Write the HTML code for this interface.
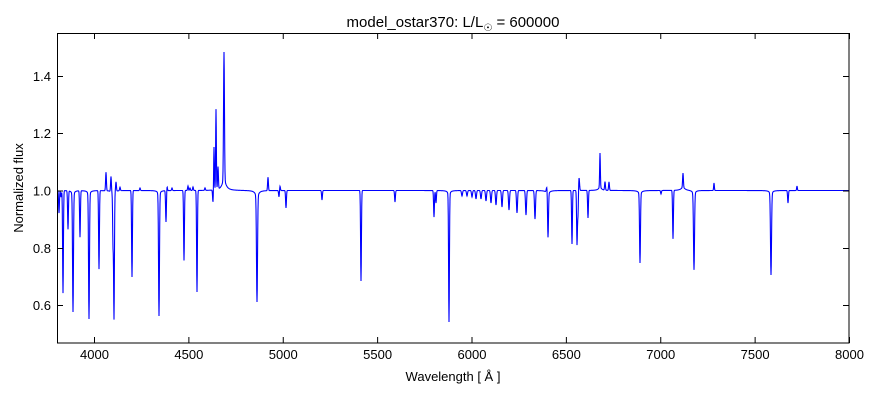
<!DOCTYPE html>
<html><head><meta charset="utf-8"><style>
body{margin:0;background:#fff;}
svg{display:block;font-family:"Liberation Sans","DejaVu Sans",sans-serif;}
</style></head><body>
<svg id="s" width="880" height="400" xmlns="http://www.w3.org/2000/svg">
<rect width="880" height="400" fill="#fff"/>
<defs><clipPath id="c"><rect x="57" y="33" width="792" height="310"/></clipPath></defs>
<path id="sp" clip-path="url(#c)" fill="none" stroke="#0000ff" stroke-width="1.1" d=""/>
<rect x="57.5" y="33.5" width="791.5" height="309.5" fill="none" stroke="#000" stroke-width="1"/>
<g id="ticks" stroke="#000" stroke-width="1"></g>
<g font-size="13" fill="#000" text-anchor="middle" id="xl"></g>
<g font-size="13" fill="#000" text-anchor="end" id="yl"></g>
<text x="453" y="27" font-size="15" text-anchor="middle">model_ostar370: L/L<tspan font-size="10" dy="4">☉</tspan><tspan dy="-4"> = 600000</tspan></text>
<text x="453" y="381" font-size="13" text-anchor="middle">Wavelength [ Å ]</text>
<text x="23" y="188" font-size="13" text-anchor="middle" transform="rotate(-90 23 188)">Normalized flux</text>
</svg>
<script>
var NS="http://www.w3.org/2000/svg";
var t=document.getElementById('ticks'),xl=document.getElementById('xl'),yl=document.getElementById('yl');
function ln(x1,y1,x2,y2){var l=document.createElementNS(NS,'line');l.setAttribute('x1',x1);l.setAttribute('y1',y1);l.setAttribute('x2',x2);l.setAttribute('y2',y2);t.appendChild(l);}
function tx(g,x,y,s){var e=document.createElementNS(NS,'text');e.setAttribute('x',x);e.setAttribute('y',y);e.textContent=s;g.appendChild(e);}
for(var k=0;k<9;k++){var x=94+94.375*k+0.5;ln(x,343,x,337);ln(x,33,x,39);tx(xl,x,359,String(4000+500*k));}
var ys=[[305,'0.6'],[248,'0.8'],[190.5,'1.0'],[133,'1.2'],[76,'1.4']];
ys.forEach(function(a){var y=a[0]+0.5;ln(57,y,63,y);ln(849,y,843,y);tx(yl,51,y+4.5,a[1]);});
var C=190.5;
var L=[[59,213,.4],[61,197,.4],[63,293,.4],[68,229,.4],[73,308,.45],[80,237,.4],[89,315,.45],[99,269,.4],
[113,239,.35],[114,316,.4],[132,277,.4],[159,312,.45],[166,222,.4],[184,264,.4],[197,292,.4],[213,203,.4],
[257,296,.5],[279,197,.4],[286,208,.4],[322,200,.4],[361,281,.4],[395,202,.4],[434,217,.4],[436,203,.4],[449,318,.4],
[462,196,.5],[467,196,.5],[472,197,.5],[476,199,.5],[481,199,.5],[486,201,.5],[491,203,.5],[496,205,.5],[502,207,.5],
[509,210,.5],[517,213,.5],[526,215,.5],[535,219,.5],[548,236,.45],[572,244,.4],[577,244,.4],[578,216,.4],[588,218,.4],
[640,260,.45],[661,194,.4],[673,239,.4],[694,266,.5],[771,271,.5],[788,203,.4],
[106,172,.4],[111,175,.4],[116,181,.4],[120,187,.4],[140,188,.4],[167,186,.4],[172,188,.4],[184,187,.4],[188,186,.4],[190,188,.4],[193,187,.4],[205,188,.4],
[214,147,.35],[216,110,.35],[218,168,.4],[224,62,.45],[268,177,.4],[280,186,.4],
[547,184,.6],[579,177,.5],[600,156,.35],[605,182,.4],[609,182,.4],[683,176,.4],[714,183,.35],[797,186,.35]];
var W=[[224,-10,2.5],[257,6,2],[113,4,1.5],[159,4,1.5],[89,4,1.5],[73,4,1.5],[449,4,1.5],[694,4,1.5],[771,4,1.5],[683,-3,2.5],[600,-3,2],[548,3,2],[640,3,2]];
var d='';
for(var x=57;x<=849;x+=0.25){var y=C;for(var i=0;i<L.length;i++){var a=L[i],dx=x-a[0];if(Math.abs(dx)<6)y+=(a[1]-C)*Math.exp(-dx*dx/(2*a[2]*a[2]));}
for(var j=0;j<W.length;j++){var b=W[j],ex=x-b[0];y+=b[1]*b[2]*b[2]/(ex*ex+b[2]*b[2]);}
d+=(x==57?'M':'L')+x.toFixed(2)+' '+y.toFixed(2);}
document.getElementById('sp').setAttribute('d',d);
</script>
</body></html>
